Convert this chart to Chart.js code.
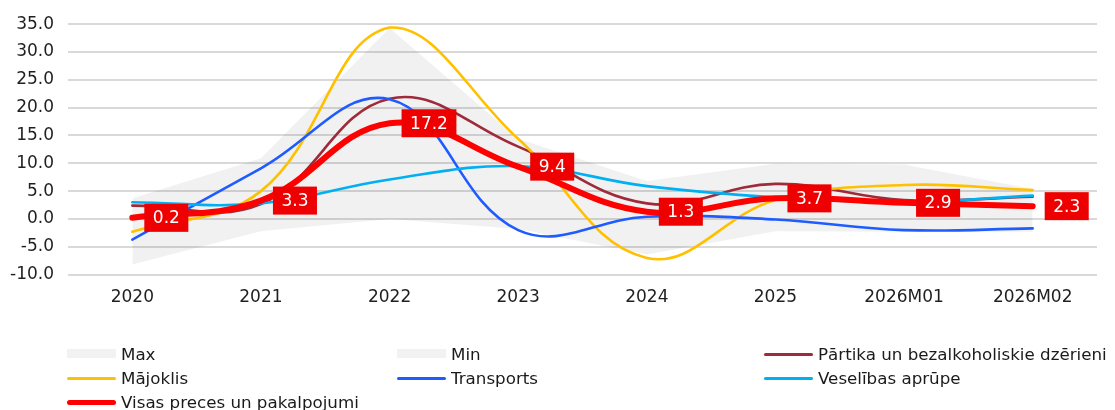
<!DOCTYPE html>
<html><head><meta charset="utf-8">
<script src="https://cdn.jsdelivr.net/npm/chart.js@4"></script>
<style>
html,body{margin:0;padding:0;background:#fff;}
#wrap{position:relative;width:1115px;height:410px;overflow:hidden;}
canvas{position:absolute;left:0;top:0;}
.lt{position:absolute;font:16.7px "DejaVu Sans",Verdana,sans-serif;color:#1a1a1a;white-space:nowrap;line-height:20px;}
.sym{position:absolute;}
</style></head><body>
<div id="wrap"><canvas id="c" width="1115" height="410"></canvas><div id="legend"></div></div>
<script>
const categories = ['2020','2021','2022','2023','2024','2025','2026M01','2026M02'];
const maxValues = [3.7, 10.9, 34.3, 14.4, 6.8, 9.9, 9.8, 5.4];
const minValues = [-8.2, -2.2, 0.0, -1.8, -6.4, -2.2, -2.3, -2.3];
const food = [2.4, 2.7, 21.6, 13.0, 2.8, 6.3, 3.4, 4.0];
const housing = [-2.3, 5.0, 34.4, 14.4, -7.0, 3.4, 6.1, 5.2];
const transport = [-3.7, 9.1, 21.5, -2.0, 0.4, -0.1, -2.0, -1.7];
const health = [3.0, 2.8, 7.1, 9.5, 5.9, 3.9, 3.0, 4.2];
const total = [0.2, 3.3, 17.2, 9.4, 1.3, 3.7, 2.9, 2.3];
const yTicks = {min: -10, max: 35, step: 5};

const FONT = '"DejaVu Sans", Verdana, sans-serif';
const BAND = 'rgba(0,0,0,0.055)';

const labelPlugin = {
  id: 'redLabels',
  afterDatasetsDraw(chart) {
    const idx = chart.data.datasets.findIndex(d => d.label === 'Visas preces un pakalpojumi');
    const meta = chart.getDatasetMeta(idx);
    const ctx = chart.ctx;
    ctx.save();
    ctx.font = '17px ' + FONT;
    ctx.textBaseline = 'middle';
    ctx.textAlign = 'center';
    meta.data.forEach((pt, i) => {
      const txt = total[i].toFixed(1);
      const w = ctx.measureText(txt).width + 17;
      const h = 28;
      const x0 = pt.x + 12;
      const y0 = pt.y - h / 2;
      ctx.fillStyle = '#ee0000';
      ctx.fillRect(x0, y0, w, h);
      ctx.fillStyle = '#ffffff';
      ctx.fillText(txt, x0 + w / 2, pt.y + 1);
    });
    ctx.restore();
  }
};

const lineDs = (label, data, color, width, order) => ({
  label, data, borderColor: color, backgroundColor: color, borderWidth: width,
  pointRadius: 0, pointHoverRadius: 0, tension: 0.4, fill: false, order,
  borderCapStyle: 'round', borderJoinStyle: 'round'
});

new Chart(document.getElementById('c'), {
  type: 'line',
  data: {
    labels: categories,
    datasets: [
      {label: 'Max', data: maxValues, borderColor: 'transparent', borderWidth: 0, backgroundColor: BAND,
       pointRadius: 0, tension: 0, fill: '+1', order: 10},
      {label: 'Min', data: minValues, borderColor: 'transparent', borderWidth: 0, backgroundColor: BAND,
       pointRadius: 0, tension: 0, fill: false, order: 11},
      lineDs('Pārtika un bezalkoholiskie dzērieni', food, '#9e2a3a', 2.6, 6),
      lineDs('Mājoklis', housing, '#ffc000', 2.6, 5),
      lineDs('Transports', transport, '#1f5cff', 2.6, 4),
      lineDs('Veselības aprūpe', health, '#00b0f0', 2.6, 3),
      lineDs('Visas preces un pakalpojumi', total, '#ff0000', 6, 1)
    ]
  },
  options: {
    responsive: false,
    animation: false,
    devicePixelRatio: 1,
    layout: {padding: {top: 21, right: 18, bottom: 89, left: 0}},
    plugins: {legend: {display: false}, tooltip: {enabled: false}},
    scales: {
      x: {
        offset: true,
        grid: {display: false, drawTicks: false},
        border: {display: false},
        ticks: {padding: 13, color: '#1f1f1f', font: {family: FONT, size: 17}, maxRotation: 0, autoSkip: false}
      },
      y: {
        min: yTicks.min, max: yTicks.max,
        grid: {color: '#d9d9d9', lineWidth: 2, drawTicks: false},
        border: {display: false},
        afterFit(scale) { scale.width = 68; },
        ticks: {stepSize: yTicks.step, padding: 14, color: '#1f1f1f', font: {family: FONT, size: 17},
                callback: v => Number(v).toFixed(1)}
      }
    }
  },
  plugins: [labelPlugin]
});

const legendItems = [
  {name: 'Max', type: 'box', color: '#f2f2f2'},
  {name: 'Min', type: 'box', color: '#f2f2f2'},
  {name: 'Pārtika un bezalkoholiskie dzērieni', type: 'line', color: '#9e2a3a', w: 3},
  {name: 'Mājoklis', type: 'line', color: '#ffc000', w: 3},
  {name: 'Transports', type: 'line', color: '#1f5cff', w: 3},
  {name: 'Veselības aprūpe', type: 'line', color: '#00b0f0', w: 3},
  {name: 'Visas preces un pakalpojumi', type: 'line', color: '#ff0000', w: 5}
];
const colX = [67, 397, 764];
const rowY = [354, 378, 402];
const lg = document.getElementById('legend');
legendItems.forEach((it, i) => {
  const cx = colX[i % 3], cy = rowY[Math.floor(i / 3)];
  const s = document.createElement('div');
  s.className = 'sym';
  if (it.type === 'box') {
    s.style.cssText = `left:${cx}px;top:${cy - 5}px;width:49px;height:9px;background:${it.color};`;
  } else {
    s.style.cssText = `left:${cx}px;top:${cy - it.w / 2}px;width:49px;height:${it.w}px;background:${it.color};border-radius:${it.w / 2}px;`;
  }
  lg.appendChild(s);
  const t = document.createElement('div');
  t.className = 'lt';
  t.style.left = (cx + 54) + 'px';
  t.style.top = (cy - 10) + 'px';
  t.textContent = it.name;
  lg.appendChild(t);
});
</script>
</body></html>
